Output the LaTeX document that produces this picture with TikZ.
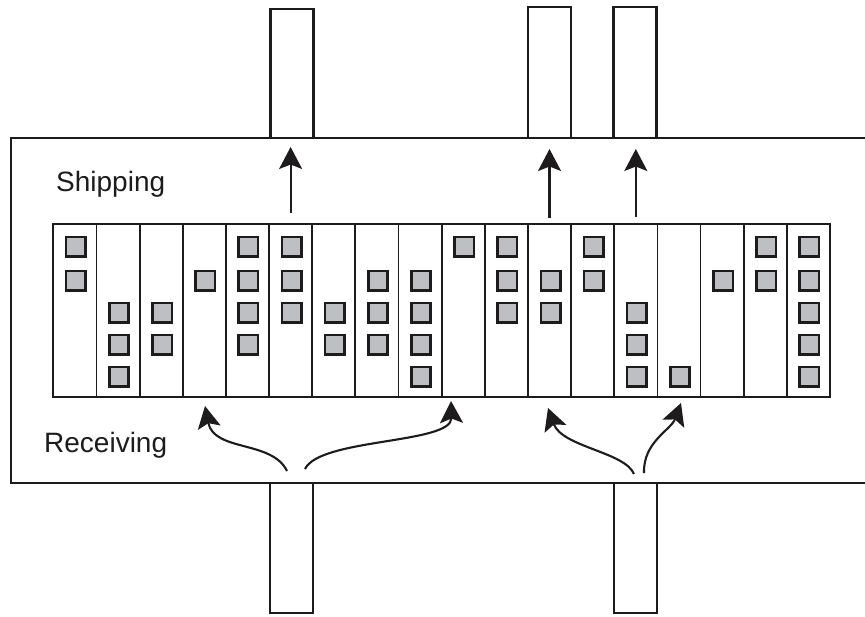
\documentclass[tikz,border=0pt]{standalone}
\usepackage{fontspec}
\setmainfont{Liberation Sans}
\usetikzlibrary{arrows.meta,calc}
\definecolor{ink}{RGB}{30,27,28}
\definecolor{cratefill}{RGB}{190,191,194}
\begin{document}
\begin{tikzpicture}[x=1pt,y=-1pt,
  dock/.style={draw=ink, line width=2.1pt, minimum width=43pt, inner sep=0pt, outer sep=0pt},
  lane/.style={draw=ink, line width=1.8pt, minimum width=43.15pt, minimum height=173pt, inner sep=0pt, outer sep=0pt},
  crate/.style={draw=ink, fill=cratefill, line width=2.6pt, minimum size=19.4pt, inner sep=0pt},
  flow/.style={line width=2.1pt, draw=ink, -{Stealth[length=22pt,width=23pt,inset=4.5pt]}},
  area/.style={font=\fontsize{28}{32}\selectfont, text=ink, inner sep=0pt, anchor=base west}]

\useasboundingbox (0,0) rectangle (865,616);

% warehouse floor (open to the right)
\draw[ink, line width=1.9pt] (868,138) -- (11,138) -- (11,483) -- (868,483);

% truck docks
\node[dock, minimum height=129pt] (t1) at (292,73.5) {};
\node[dock, minimum height=131pt] (t2) at (549.8,72.5) {};
\node[dock, minimum height=131pt] (t3) at (635,72.5) {};
\node[dock, minimum height=130pt] (b1) at (291.5,548) {};
\node[dock, minimum height=130pt] (b2) at (635.5,548) {};

% storage lanes
\foreach \i in {1,...,18} {
  \node[lane] (c\i) at ({53.3+(\i-0.5)*43.15},310.5) {};
}

% stored items: lane / list of slots
\foreach \i/\slots in {1/{1,2},2/{3,4,5},3/{3,4},4/{2},5/{1,2,3,4},6/{1,2,3},
                       7/{3,4},8/{2,3,4},9/{2,3,4,5},10/{1},11/{1,2,3},12/{2,3},
                       13/{1,2},14/{3,4,5},15/{5},16/{2},17/{1,2},18/{1,2,3,4,5}} {
  \foreach \s in \slots {
    \pgfmathsetmacro\sy{{0,246.5,280.5,312.5,344.5,376.5}[\s]}
    \node[crate] (k\i-\s) at ($(c\i.center |- 0,\sy)+(1,0)$) {};
  }
}

% labels
\node[area] (ship) at (56,191.7) {Shipping};
\node[area] (recv) at (44,452.3) {Receiving};

% outbound flows
\draw[flow] ($(c6.north)+(0,-11)$) -- ($(c6.north |- t1.south)+(0,9)$);
\draw[flow] ($(c12.north)+(0,-6)$) -- ($(c12.north |- t2.south)+(0,11)$);
\draw[flow] ($(c14.north)+(0,-7)$) -- ($(c14.north |- t3.south)+(0,11)$);

% inbound flows
\coordinate (b1l) at ($(b1.north)+(-4.5,-12)$);
\coordinate (b1r) at ($(b1.north)+(13.5,-14)$);
\coordinate (b2l) at ($(b2.north)+(-1.5,-9)$);
\coordinate (b2r) at ($(b2.north)+(8.5,-10)$);
\coordinate (d1) at (205,406);
\coordinate (d2) at (451,401);
\coordinate (d3) at (548,408);
\coordinate (d4) at (681,403);
\draw[flow] (b1l) .. controls (272,440) and (214,452) .. (d1);
\draw[flow] (b1r) .. controls (320,438) and (452,444) .. (d2);
\draw[flow] (b2l) .. controls (625,452) and (562,447) .. (d3);
\draw[flow] (b2r) .. controls (643,442) and (671,430) .. (d4);
\end{tikzpicture}
\end{document}
